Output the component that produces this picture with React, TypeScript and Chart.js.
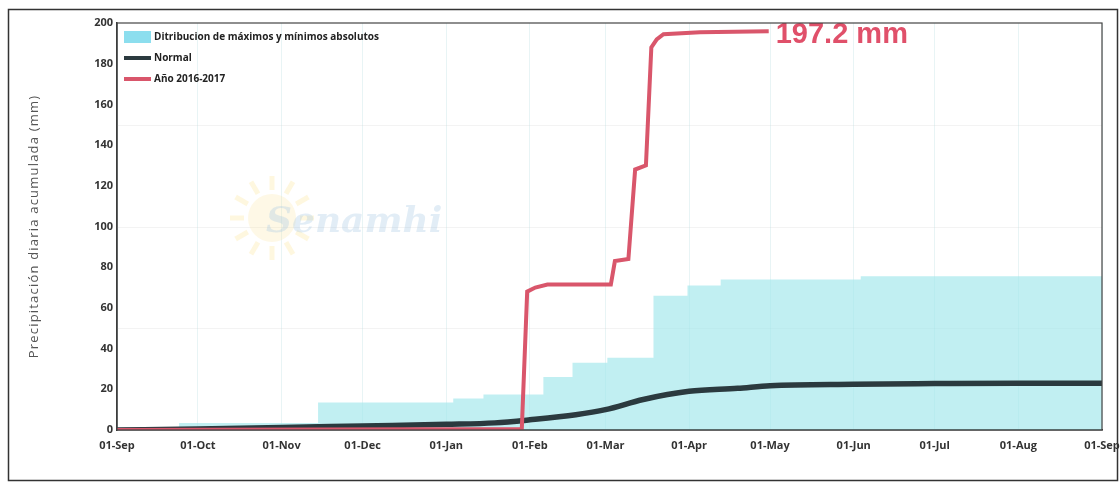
import { useEffect, useRef } from 'react';
import { Chart, registerables } from 'chart.js';

Chart.register(...registerables);

// Tick positions (days since 01-Sep) and labels
const MONTH_DAYS = [0, 30, 61, 91, 122, 153, 181, 212, 242, 273, 303, 334, 365];
const MONTH_LABELS = ['01-Sep', '01-Oct', '01-Nov', '01-Dec', '01-Jan', '01-Feb', '01-Mar', '01-Apr', '01-May', '01-Jun', '01-Jul', '01-Aug', '01-Sep'];
const Y_MIN = 0;
const Y_MAX = 200;
const Y_STEP = 20;
const FAINT_GRID_VALUES = [50, 100, 150];

// Distribution band (absolute max; min is 0)
const BAND_DAYS = [0, 23, 74.5, 124.6, 135.8, 158, 168.8, 181.7, 198.8, 211.4, 223.7, 275.6, 365];
const BAND_MAX = [0, 3.5, 13.5, 15.5, 17.5, 26, 33, 35.5, 66, 71, 74, 75.5, 75.5];

// Normal accumulated precipitation
const NORMAL_DAYS = [0, 30, 61, 91, 122, 140, 153, 170, 181, 195, 212, 230, 242, 273, 303, 334, 365];
const NORMAL_VALUES = [0, 0.5, 1.2, 2, 2.8, 3.5, 5, 7.5, 10, 15, 19, 20.5, 21.8, 22.5, 22.8, 23, 23];

// Year 2016-2017 accumulated precipitation
const YEAR_DAYS = [0, 150, 152, 155, 159.5, 183, 184.5, 189.5, 192, 196, 198, 200, 202.5, 216, 241.5];
const YEAR_VALUES = [0, 0.5, 68, 70, 71.5, 71.5, 83, 84, 128, 130, 188, 192, 194.5, 195.5, 196];

const LABEL_BAND = 'Ditribucion de máximos y mínimos absolutos';
const LABEL_NORMAL = 'Normal';
const LABEL_YEAR = 'Año 2016-2017';
const ANNOTATION = '197.2 mm';
const Y_TITLE = 'Precipitación diaria acumulada (mm)';
const WATERMARK = 'Senamhi';

const COLOR_BAND = 'rgba(160,230,235,0.65)';
const COLOR_BAND_LEGEND = 'rgb(140,222,238)';
const COLOR_NORMAL = '#2b3a3f';
const COLOR_YEAR = '#d9566b';
const COLOR_ANNOT = '#e0506a';

const FONT = '"Open Sans", "Noto Sans", sans-serif';

const pts = (xs: number[], ys: number[]) => xs.map((x, i) => ({ x, y: ys[i] }));

const decorPlugin = {
  id: 'decor',
  beforeDatasetsDraw(chart: any) {
    const { ctx, chartArea, scales } = chart;
    ctx.save();
    // faint horizontal grid lines
    ctx.strokeStyle = 'rgba(200,200,200,0.22)';
    ctx.lineWidth = 1;
    FAINT_GRID_VALUES.forEach((v) => {
      const y = Math.round(scales.y.getPixelForValue(v)) + 0.5;
      ctx.beginPath();
      ctx.moveTo(chartArea.left, y);
      ctx.lineTo(chartArea.right, y);
      ctx.stroke();
    });
    // watermark
    const cx = chartArea.left + 155;
    const cy = chartArea.top + 195;
    ctx.fillStyle = 'rgba(250,225,140,0.22)';
    ctx.beginPath();
    ctx.arc(cx, cy, 24, 0, Math.PI * 2);
    ctx.fill();
    ctx.strokeStyle = 'rgba(250,225,140,0.28)';
    ctx.lineWidth = 5;
    for (let i = 0; i < 12; i++) {
      const a = (i * Math.PI) / 6;
      ctx.beginPath();
      ctx.moveTo(cx + Math.cos(a) * 28, cy + Math.sin(a) * 28);
      ctx.lineTo(cx + Math.cos(a) * 42, cy + Math.sin(a) * 42);
      ctx.stroke();
    }
    ctx.fillStyle = 'rgba(165,200,228,0.32)';
    ctx.font = 'italic bold 36px "DejaVu Serif", serif';
    ctx.textBaseline = 'alphabetic';
    ctx.textAlign = 'left';
    ctx.fillText(WATERMARK, cx - 6, cy + 14);
    ctx.restore();
  },
  afterDatasetsDraw(chart: any) {
    const { ctx, chartArea, scales } = chart;
    ctx.save();
    // annotation at end of year series
    const lastX = scales.x.getPixelForValue(YEAR_DAYS[YEAR_DAYS.length - 1]);
    const lastY = scales.y.getPixelForValue(YEAR_VALUES[YEAR_VALUES.length - 1]);
    ctx.fillStyle = COLOR_ANNOT;
    ctx.font = 'bold 29px "Liberation Sans", Arial, sans-serif';
    ctx.textAlign = 'left';
    ctx.textBaseline = 'middle';
    ctx.fillText(ANNOTATION, lastX + 7, lastY + 4);

    // legend
    const lx = chartArea.left + 7;
    const ly = chartArea.top + 14;
    const gap = 21;
    ctx.font = `bold 10px ${FONT}`;
    ctx.textBaseline = 'middle';
    ctx.fillStyle = COLOR_BAND_LEGEND;
    ctx.fillRect(lx, ly - 6, 27, 12);
    ctx.fillStyle = COLOR_NORMAL;
    ctx.fillRect(lx, ly + gap - 2, 27, 4);
    ctx.fillStyle = COLOR_YEAR;
    ctx.fillRect(lx, ly + 2 * gap - 2, 27, 4);
    ctx.fillStyle = '#222';
    ctx.fillText(LABEL_BAND, lx + 30, ly);
    ctx.fillText(LABEL_NORMAL, lx + 30, ly + gap);
    ctx.fillText(LABEL_YEAR, lx + 30, ly + 2 * gap);

    // plot frame
    ctx.strokeStyle = '#444';
    ctx.lineWidth = 1.2;
    ctx.strokeRect(chartArea.left, chartArea.top, chartArea.right - chartArea.left, chartArea.bottom - chartArea.top);
    ctx.restore();
  },
  afterDraw(chart: any) {
    const { ctx, chartArea } = chart;
    ctx.save();
    // y-axis title
    ctx.translate(34, (chartArea.top + chartArea.bottom) / 2);
    ctx.rotate(-Math.PI / 2);
    ctx.fillStyle = '#555';
    ctx.font = `13px ${FONT}`;
    (ctx as any).letterSpacing = '1.2px';
    ctx.textAlign = 'center';
    ctx.textBaseline = 'middle';
    ctx.fillText(Y_TITLE, 0, 0);
    ctx.restore();

    ctx.save();
    ctx.strokeStyle = '#333';
    ctx.lineWidth = 1.5;
    ctx.strokeRect(8.5, 9.5, 1109, 471);
    ctx.restore();
  },
};

export default function App() {
  const ref = useRef<HTMLCanvasElement | null>(null);

  useEffect(() => {
    document.body.style.margin = '0';
    if (!ref.current) return;
    const chart = new Chart(ref.current, {
      type: 'line',
      data: {
        datasets: [
          {
            label: LABEL_YEAR,
            data: pts(YEAR_DAYS, YEAR_VALUES),
            borderColor: COLOR_YEAR,
            borderWidth: 4,
            pointRadius: 0,
            fill: false,
            tension: 0,
          },
          {
            label: LABEL_NORMAL,
            data: pts(NORMAL_DAYS, NORMAL_VALUES),
            borderColor: COLOR_NORMAL,
            borderWidth: 5.5,
            pointRadius: 0,
            fill: false,
            cubicInterpolationMode: 'monotone',
          },
          {
            label: LABEL_BAND,
            data: pts(BAND_DAYS, BAND_MAX),
            borderWidth: 0,
            borderColor: 'rgba(0,0,0,0)',
            backgroundColor: COLOR_BAND,
            pointRadius: 0,
            stepped: 'before',
            fill: 'origin',
          },
        ],
      } as any,
      options: {
        animation: false,
        responsive: false,
        layout: { padding: { left: 0, top: 23, right: 18, bottom: 0 } },
        plugins: {
          legend: { display: false },
          tooltip: { enabled: false },
        },
        scales: {
          x: {
            type: 'linear',
            min: 0,
            max: 365,
            afterBuildTicks: (scale: any) => {
              scale.ticks = MONTH_DAYS.map((v) => ({ value: v }));
            },
            afterFit: (scale: any) => {
              scale.height = 55;
              scale.paddingLeft = 0;
              scale.paddingRight = 0;
            },
            ticks: {
              autoSkip: false,
              maxRotation: 0,
              padding: 9,
              color: '#333',
              font: { family: FONT, size: 11, weight: 'bold' },
              callback: (v: any) => {
                const i = MONTH_DAYS.indexOf(Number(v));
                return i >= 0 ? MONTH_LABELS[i] : '';
              },
            },
            grid: { color: 'rgba(140,200,205,0.2)', drawTicks: false },
            border: { display: true, color: '#333', width: 1.5 },
          },
          y: {
            min: Y_MIN,
            max: Y_MAX,
            afterFit: (scale: any) => {
              scale.width = 117;
              scale.paddingTop = 0;
              scale.paddingBottom = 0;
            },
            ticks: {
              stepSize: Y_STEP,
              padding: 4,
              color: '#333',
              font: { family: FONT, size: 11, weight: 'bold' },
            },
            grid: { display: false, drawTicks: false },
            border: { display: true, color: '#333', width: 1.5 },
            title: { display: false },
          },
        },
      } as any,
      plugins: [decorPlugin],
    });
    return () => chart.destroy();
  }, []);

  return (
    <div style={{ width: 1120, height: 485, position: 'relative' }}>
      <canvas ref={ref} width={1120} height={485} style={{ display: 'block' }} />
    </div>
  );
}
